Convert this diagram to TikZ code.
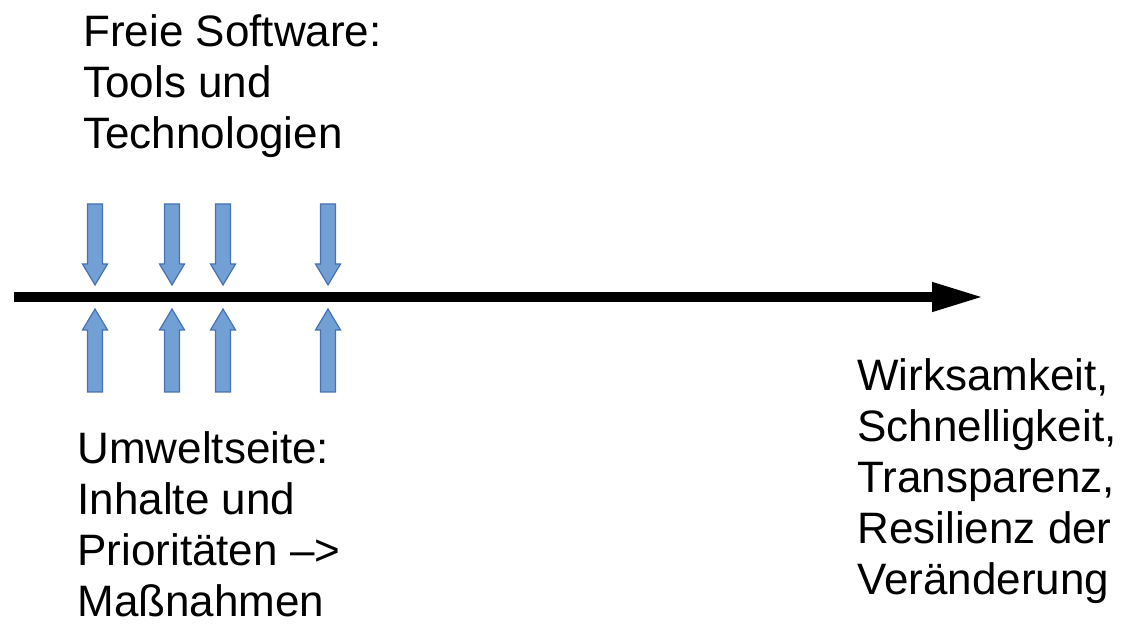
\documentclass[tikz,border=0pt]{standalone}
\usepackage{fontspec}
\setmainfont{Liberation Sans}
\usetikzlibrary{arrows.meta}
\definecolor{pfeilblau}{RGB}{114,159,212}
\definecolor{pfeilrand}{RGB}{70,114,180}
\tikzset{
  blockpfeil/.style={fill=pfeilblau, draw=pfeilrand, line width=0.6pt},
  textblock/.style={anchor=north west, inner sep=0pt, align=left, font=\fontsize{22}{25.5}\selectfont}
}
\begin{document}
\begin{tikzpicture}[x=0.5pt, y=-0.5pt]
    \useasboundingbox (0,0) rectangle (1125,630);

    % Zeitachse
    \coordinate (start) at (14,297);
    \coordinate (ende) at (984,297);
    \draw[line width=5pt, -{Triangle[length=26pt, width=13.5pt]}] (start) -- (ende);

    % Blockpfeile oben und unten
    \foreach \x in {95,172,223,328} {
        \draw[blockpfeil] (\x-7.5,204) -- (\x+7.5,204) -- (\x+7.5,264) -- (\x+12.5,264)
            -- (\x,285) -- (\x-12.5,264) -- (\x-7.5,264) -- cycle;
        \draw[blockpfeil] (\x-7.5,392) -- (\x+7.5,392) -- (\x+7.5,330) -- (\x+12.5,330)
            -- (\x,309) -- (\x-12.5,330) -- (\x-7.5,330) -- cycle;
    }

    % Texte
    \node[textblock] (software) at (83,14) {Freie Software:\\Tools und\\Technologien};
    \node[textblock] (umwelt) at (77,431) {Umweltseite:\\Inhalte und\\Prioritäten –>\\Maßnahmen};
    \node[textblock] (wirkung) at (857,358) {Wirksamkeit,\\Schnelligkeit,\\Transparenz,\\Resilienz der\\Veränderung};
\end{tikzpicture}
\end{document}
